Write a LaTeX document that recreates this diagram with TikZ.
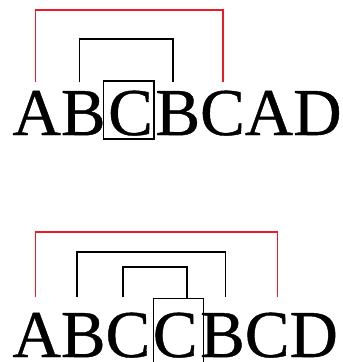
\documentclass[tikz,border=0pt]{standalone}
\usepackage{fontspec}
\setmainfont{Liberation Serif}
\newfontfamily\lettersfont[FakeBold=0.6]{Liberation Serif}
\definecolor{bred}{RGB}{237,28,36}
\begin{document}
\begin{tikzpicture}[x=1pt,y=-1pt,
  letter/.style={anchor=base west,inner sep=0pt,outer sep=0pt,font=\lettersfont\fontsize{67}{67}\selectfont},
  redline/.style={draw=bred,line width=1.4pt},
  blkline/.style={draw=black,line width=1.4pt},
  cbox/.style={draw=black,line width=1.3pt,inner sep=0pt}]
\useasboundingbox (0,0) rectangle (343,362);
% top row
\node[letter] (t1) at (12.5,135) {A};
\node[letter] (t2) at (t1.base east) {B};
\node[letter] (t3) at ([xshift=2.6pt]t2.base east) {C};
\node[letter] (t4) at ([xshift=2.6pt]t3.base east) {B};
\node[letter] (t5) at (t4.base east) {C};
\node[letter] (t6) at (t5.base east) {A};
\node[letter] (t7) at (t6.base east) {D};
\node[cbox,minimum width=50.5pt,minimum height=58pt] (tb) at (128.6,110) {};
% top brackets
\coordinate (tra) at (35.5,82);
\coordinate (trb) at (223,82);
\coordinate (tka) at (79.3,82);
\coordinate (tkb) at (173,82);
\draw[redline] (tra) -- (tra |- 0,10) -| (trb);
\draw[blkline] (tka) -- (tka |- 0,39) -| (tkb);
% bottom row
\node[letter] (b1) at (12.5,357) {A};
\node[letter] (b2) at (b1.base east) {B};
\node[letter] (b3) at (b2.base east) {C};
\node[letter] (b4) at ([xshift=2.6pt]b3.base east) {C};
\node[letter] (b5) at ([xshift=2.6pt]b4.base east) {B};
\node[letter] (b6) at (b5.base east) {C};
\node[letter] (b7) at (b6.base east) {D};
\node[cbox,minimum width=50pt,minimum height=66pt,anchor=north] (bb) at (178.3,298) {};
% bottom brackets
\coordinate (bra) at (35.5,297);
\coordinate (brb) at (277.7,297);
\coordinate (boa) at (77,297);
\coordinate (bob) at (225.3,297);
\coordinate (bia) at (123,297);
\draw[redline] (bra) -- (bra |- 0,232) -| (brb);
\draw[blkline] (boa) -- (boa |- 0,252) -| (bob);
\draw[blkline] (bia) -- (bia |- 0,267) -| (bb.north -| 187,0);
\end{tikzpicture}
\end{document}
